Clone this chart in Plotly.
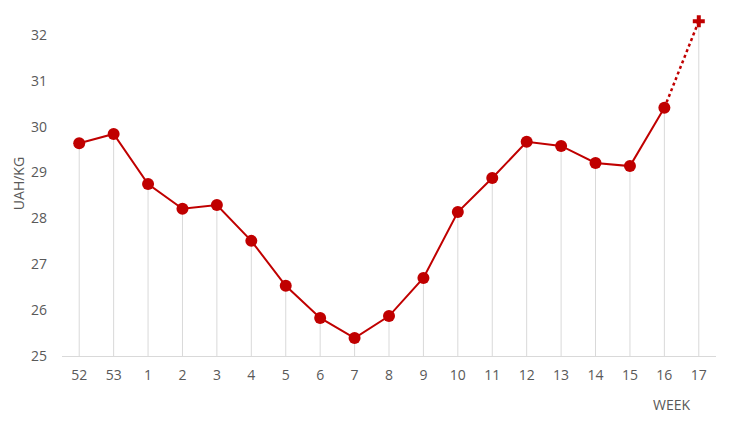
import plotly.graph_objects as go

weeks = ["52", "53", "1", "2", "3", "4", "5", "6", "7", "8", "9", "10", "11", "12", "13", "14", "15", "16", "17"]
prices = [29.64, 29.84, 28.75, 28.21, 28.29, 27.51, 26.53, 25.83, 25.39, 25.87, 26.70, 28.14, 28.88, 29.67, 29.58, 29.21, 29.14, 30.41, 32.30]
y_min = 25
y_ticks = [25, 26, 27, 28, 29, 30, 31, 32]

RED = "#c00000"
GREY_TXT = "#595959"
FONT = "Open Sans"

fig = go.Figure()

# drop lines
fig.add_trace(go.Scatter(
    x=weeks, y=prices, mode="markers",
    marker=dict(size=0.1, color="rgba(0,0,0,0)"),
    error_y=dict(type="data", symmetric=False, array=[0] * len(prices),
                 arrayminus=[p - y_min for p in prices],
                 color="#d9d9d9", thickness=1, width=0),
    hoverinfo="skip", showlegend=False,
))

# actual line
fig.add_trace(go.Scatter(
    x=weeks[:-1], y=prices[:-1], mode="lines+markers",
    line=dict(color=RED, width=2),
    marker=dict(size=12, color=RED),
    showlegend=False,
))

# forecast dotted
fig.add_trace(go.Scatter(
    x=weeks[-2:], y=prices[-2:], mode="lines",
    line=dict(color=RED, width=2.5, dash="dot"),
    showlegend=False,
))
fig.add_trace(go.Scatter(
    x=weeks[-1:], y=prices[-1:], mode="markers",
    marker=dict(size=10, color=RED, symbol="cross"),
    showlegend=False,
))

fig.update_layout(
    width=734, height=423,
    margin=dict(l=54, r=26, t=4, b=75),
    paper_bgcolor="white", plot_bgcolor="white",
    font=dict(family=FONT, color=GREY_TXT, size=14),
    xaxis=dict(type="category", range=[-0.5, 18.5], showgrid=False,
               showline=True, linecolor="#d9d9d9", linewidth=1, ticks="",
               tickfont=dict(size=14, color=GREY_TXT), zeroline=False,
               ticklabelstandoff=6),
    yaxis=dict(range=[25, 32.5], tickvals=y_ticks, showgrid=False,
               showline=False, zeroline=False, ticks="",
               tickfont=dict(size=14, color=GREY_TXT), ticklabelstandoff=14),
    annotations=[
        dict(text="UAH/KG", xref="paper", yref="paper", x=-0.067, y=0.5,
             xanchor="center", yanchor="middle",
             textangle=-90, showarrow=False, font=dict(size=14, color=GREY_TXT)),
        dict(text="WEEK", xref="x", yref="paper", x=17.2, y=-0.142,
             xanchor="center", yanchor="middle",
             showarrow=False, font=dict(size=14, color=GREY_TXT)),
    ],
)

fig.write_html("out.html")
